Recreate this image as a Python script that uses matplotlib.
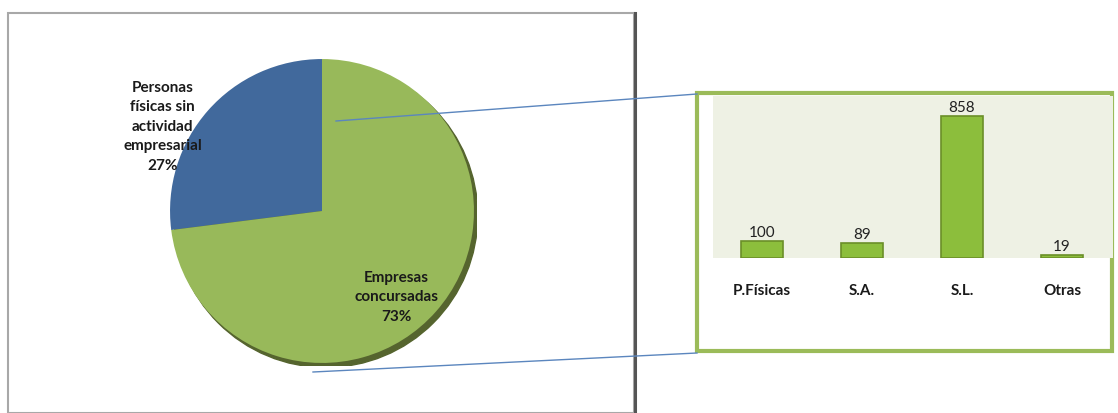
import matplotlib.pyplot as plt
from matplotlib.patches import Rectangle, Ellipse

plt.rcParams['font.family'] = ['Lato', 'DejaVu Sans']

# pie data
pie_labels = ['Personas\nfísicas sin\nactividad\nempresarial', 'Empresas\nconcursadas']
pie_pcts = [27, 73]
pie_colors = ['#41699C', '#98B95A']

# bar data
bar_cats = ['P.Físicas', 'S.A.', 'S.L.', 'Otras']
bar_vals = [100, 89, 858, 19]

W, H = 1118, 414
fig = plt.figure(figsize=(W / 100, H / 100), dpi=100)

def px_axes(x0, y0, x1, y1, **kw):
    # pixel box (top-left origin) -> figure axes
    return fig.add_axes([x0 / W, 1 - y1 / H, (x1 - x0) / W, (y1 - y0) / H], **kw)

# background frames
bg = fig.add_axes([0, 0, 1, 1], zorder=0)
bg.set_xlim(0, W)
bg.set_ylim(H, 0)
bg.axis('off')
bg.add_patch(Rectangle((8, 14), 626, 400, fill=False, edgecolor='#A8A8A8', lw=1.5))
bg.plot([634.5, 634.5], [14, 414], color='#555555', lw=2.2)
bg.add_patch(Rectangle((697, 94), 415, 258, facecolor='white', edgecolor='#9BBB59', lw=3))

# pie
cx, cy, r = 322, 212, 155
pax = px_axes(cx - r, cy - r, cx + r, cy + r, zorder=2)
pax.add_patch(Ellipse((0.025, -0.03), 2.0, 2.0, color='#55642E', zorder=0))
pax.pie(pie_pcts, colors=pie_colors, startangle=90, counterclock=True,
        radius=1.0, wedgeprops=dict(linewidth=0))
pax.set_xlim(-1.02, 1.02)
pax.set_ylim(-1.02, 1.02)
pax.set_aspect('equal')
pax.axis('off')
pax.text(-1.05, 0.56, f'{pie_labels[0]}\n{pie_pcts[0]}%', ha='center', va='center',
         fontsize=11, fontweight='bold', color='#1A1A1A', linespacing=1.5)
pax.text(0.49, -0.56, f'{pie_labels[1]}\n{pie_pcts[1]}%', ha='center', va='center',
         fontsize=11, fontweight='bold', color='#1A1A1A', linespacing=1.5)

# bars
bax = px_axes(713, 97, 1113, 259, zorder=3)
bax.set_facecolor('#EEF1E4')
x = range(len(bar_cats))
bax.bar(x, bar_vals, width=0.42, color='#8CBE3C', edgecolor='#6B8F28', linewidth=1.2)
for xi, v in zip(x, bar_vals):
    bax.text(xi, v + 12, str(v), ha='center', va='bottom', fontsize=11, color='#222222')
bax.set_xlim(-0.49, 3.51)
bax.set_ylim(0, 980)
bax.set_yticks([])
bax.set_xticks(list(x))
bax.set_xticklabels(bar_cats, fontsize=11, fontweight='bold', color='#1A1A1A')
bax.tick_params(axis='x', length=0, pad=18)
for s in bax.spines.values():
    s.set_visible(False)

# connector lines
fg = fig.add_axes([0, 0, 1, 1], zorder=10)
fg.set_xlim(0, W)
fg.set_ylim(H, 0)
fg.axis('off')
fg.patch.set_alpha(0)
fg.plot([336, 697], [122, 95], color='#5B86BE', lw=1)
fg.plot([313, 697], [373, 354], color='#5B86BE', lw=1)

fig.savefig('out.png', dpi=100)
